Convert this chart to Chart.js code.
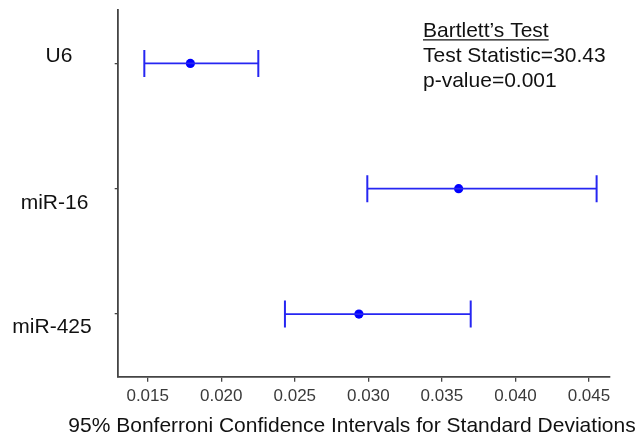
<!DOCTYPE html>
<html>
<head>
<meta charset="utf-8">
<script src="https://cdn.jsdelivr.net/npm/chart.js@4"></script>
<style>
  html, body { margin: 0; padding: 0; background: #fff; }
  #wrap { width: 644px; height: 438px; }
</style>
</head>
<body>
<div id="wrap"><canvas id="chart" width="644" height="438"></canvas></div>
<script>
// categories and interval values
const categories = ['U6', 'miR-16', 'miR-425'];
const lowerCI = [0.01477, 0.02993, 0.02433];
const estimate = [0.01790, 0.03614, 0.02936];
const upperCI = [0.02252, 0.04552, 0.03696];
const xTickValues = [0.015, 0.020, 0.025, 0.030, 0.035, 0.040, 0.045];
const xTickLabels = ['0.015', '0.020', '0.025', '0.030', '0.035', '0.040', '0.045'];
const testLines = ['Bartlett\u2019s Test', 'Test Statistic=30.43', 'p-value=0.001'];
const xTitle = '95% Bonferroni Confidence Intervals for Standard Deviations';

const FONT = '"Liberation Sans", Arial, sans-serif';
const blue = '#2626f2';

// one line dataset per interval, caps drawn as rotated 'line' points
let datasets = categories.map((c, i) => ({
  type: 'line',
  label: c,
  data: [{ x: lowerCI[i], y: i }, { x: upperCI[i], y: i }],
  borderColor: blue,
  borderWidth: 1.8,
  pointStyle: 'line',
  rotation: 90,
  pointRadius: 13.5,
  pointBorderColor: blue,
  pointBorderWidth: 2,
  fill: false
}));
datasets.push({
  type: 'scatter',
  label: 'estimate',
  data: estimate.map((v, i) => ({ x: v, y: i })),
  pointStyle: 'circle',
  pointRadius: 4.6,
  backgroundColor: '#0000ff',
  borderColor: '#0000ff',
  borderWidth: 0
});

// texts: category names, the Bartlett box, the axis title
const textPlugin = {
  id: 'texts',
  afterDraw(chart) {
    const ctx = chart.ctx;
    const y = chart.scales.y;
    ctx.save();
    ctx.fillStyle = '#111';
    ctx.font = '21px ' + FONT;
    ctx.textAlign = 'center';
    ctx.textBaseline = 'alphabetic';
    const labelShift = [[59, -1.6], [54.5, 20.7], [52, 18.7]];
    categories.forEach((c, i) => {
      ctx.fillText(c, labelShift[i][0], y.getPixelForValue(i) + labelShift[i][1]);
    });

    ctx.textAlign = 'left';
    const baseY = [36.7, 62, 86.7];
    testLines.forEach((t, i) => ctx.fillText(t, 423, baseY[i]));
    const w = ctx.measureText(testLines[0]).width;
    ctx.strokeStyle = '#111';
    ctx.lineWidth = 1.3;
    ctx.beginPath();
    ctx.moveTo(423, 39.8);
    ctx.lineTo(423 + w, 39.8);
    ctx.stroke();

    ctx.textAlign = 'center';
    ctx.fillText(xTitle, 352, 432);
    ctx.restore();
  }
};

new Chart(document.getElementById('chart'), {
  data: { datasets: datasets },
  options: {
    responsive: false,
    animation: false,
    layout: { autoPadding: false, padding: { left: 0, right: 34, top: 10, bottom: 0 } },
    plugins: {
      legend: { display: false },
      tooltip: { enabled: false }
    },
    scales: {
      x: {
        type: 'linear',
        min: 0.01296,
        max: 0.04643,
        afterBuildTicks: (scale) => {
          scale.ticks = xTickValues.map(v => ({ value: v }));
        },
        afterFit: (scale) => { scale.height = 61.3; },
        ticks: {
          callback: (v) => {
            const k = xTickValues.findIndex(t => Math.abs(t - v) < 1e-9);
            return k >= 0 ? xTickLabels[k] : '';
          },
          color: '#3a3a3a',
          font: { family: FONT, size: 17 },
          padding: 4,
          maxRotation: 0,
          autoSkip: false
        },
        grid: { drawOnChartArea: false, drawTicks: true, tickLength: 5, color: '#444', lineWidth: 1.3 },
        border: { color: '#444', width: 1.8 }
      },
      y: {
        type: 'linear',
        reverse: true,
        min: -0.426,
        max: 2.50,
        afterBuildTicks: (scale) => {
          scale.ticks = categories.map((c, i) => ({ value: i }));
        },
        afterFit: (scale) => {
          scale.width = 117.7;
          scale.paddingTop = 0;
          scale.paddingBottom = 0;
        },
        ticks: { display: false },
        grid: { drawOnChartArea: false, drawTicks: true, tickLength: 3, color: '#444', lineWidth: 1.3 },
        border: { color: '#444', width: 1.8 }
      }
    }
  },
  plugins: [textPlugin]
});
</script>
</body>
</html>
